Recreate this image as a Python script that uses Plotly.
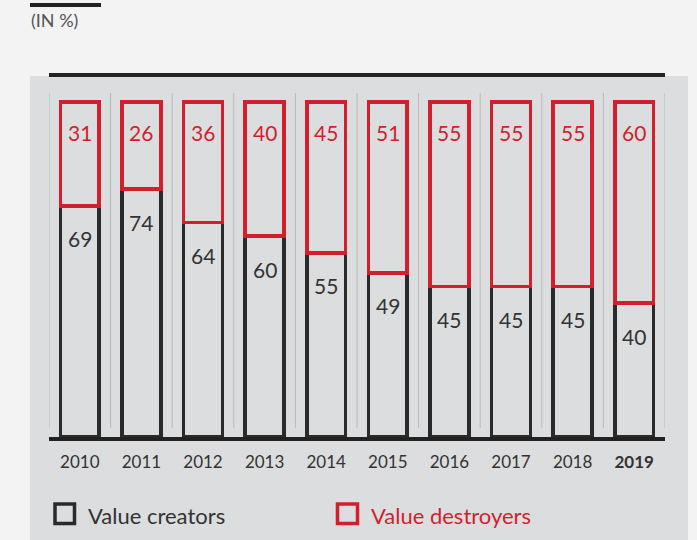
import plotly.graph_objects as go

years = ["2010", "2011", "2012", "2013", "2014", "2015", "2016", "2017", "2018", "2019"]
creators = [69, 74, 64, 60, 55, 49, 45, 45, 45, 40]
destroyers = [31, 26, 36, 40, 45, 51, 55, 55, 55, 60]
tick_labels = ["2010", "2011", "2012", "2013", "2014", "2015", "2016", "2017", "2018", "<b>2019</b>"]

BLACK = "#2a2a2a"
RED = "#d21f2d"
TXT = "#333333"
FONT = "Lato"

W, H = 697, 540
ML, MR, MT, MB = 49, 32, 77, 103
PW = W - ML - MR
PH = H - MT - MB

def px_x(p):
    return (p - ML) / PW

def px_y(p):
    return (H - MB - p) / PH

fig = go.Figure()
fig.add_trace(go.Bar(
    x=list(range(len(years))), y=creators, name="Value creators",
    width=0.63, marker=dict(color="rgba(0,0,0,0)", line=dict(color=BLACK, width=3.5)),
    hoverinfo="skip"))
fig.add_trace(go.Bar(
    x=list(range(len(years))), y=destroyers, name="Value destroyers",
    width=0.63, marker=dict(color="rgba(0,0,0,0)", line=dict(color=RED, width=3.5)),
    hoverinfo="skip"))

annotations = []
for i, (c, d) in enumerate(zip(creators, destroyers)):
    annotations.append(dict(x=i, y=c, xref="x", yref="y", text=str(c), showarrow=False,
                            yshift=-33, font=dict(family=FONT, size=21, color=TXT)))
    annotations.append(dict(x=i, y=100, xref="x", yref="y", text=str(d), showarrow=False,
                            yshift=-30, font=dict(family=FONT, size=21, color=RED)))

annotations.append(dict(x=px_x(29), y=px_y(20), xref="paper", yref="paper", text="(IN %)",
                        showarrow=False, xanchor="left", yanchor="middle",
                        font=dict(family=FONT, size=18, color="#555555")))
annotations.append(dict(x=px_x(86), y=px_y(515), xref="paper", yref="paper", text="Value creators",
                        showarrow=False, xanchor="left", yanchor="middle",
                        font=dict(family=FONT, size=22, color=TXT)))
annotations.append(dict(x=px_x(369), y=px_y(515), xref="paper", yref="paper", text="Value destroyers",
                        showarrow=False, xanchor="left", yanchor="middle",
                        font=dict(family=FONT, size=22, color=RED)))

shapes = [
    # panel
    dict(type="rect", xref="paper", yref="paper", x0=px_x(30), x1=px_x(688), y0=px_y(541), y1=px_y(76),
         fillcolor="#dcdddf", line=dict(width=0), layer="below"),
    # top-left bar
    dict(type="rect", xref="paper", yref="paper", x0=px_x(30), x1=px_x(101), y0=px_y(7), y1=px_y(3),
         fillcolor="#222222", line=dict(width=0)),
    # legend squares
    dict(type="rect", xref="paper", yref="paper", x0=px_x(55), x1=px_x(74.5), y0=px_y(523.5), y1=px_y(504),
         fillcolor="rgba(0,0,0,0)", line=dict(color=BLACK, width=3.5)),
    dict(type="rect", xref="paper", yref="paper", x0=px_x(337.5), x1=px_x(357.5), y0=px_y(523.5), y1=px_y(504),
         fillcolor="rgba(0,0,0,0)", line=dict(color=RED, width=3.5)),
]
for i in range(len(years) + 1):
    shapes.append(dict(type="line", xref="x", yref="y", x0=i - 0.5, x1=i - 0.5, y0=2.7, y1=102.7,
                       line=dict(color="#b9b9bb", width=1), layer="below"))

fig.update_layout(
    width=W, height=H,
    margin=dict(l=ML, r=MR, t=MT, b=MB),
    barmode="stack",
    paper_bgcolor="#f3f3f3",
    plot_bgcolor="rgba(0,0,0,0)",
    showlegend=False,
    annotations=annotations,
    shapes=shapes,
    xaxis=dict(range=[-0.5, 9.5], tickmode="array", tickvals=list(range(len(years))), ticktext=tick_labels,
               showline=True, mirror=True, linecolor="#222222", linewidth=3.5, showgrid=False, zeroline=False,
               ticks="outside", ticklen=7, tickcolor="rgba(0,0,0,0)",
               tickfont=dict(family=FONT, size=17, color=TXT), fixedrange=True),
    yaxis=dict(range=[0, 107.5], showticklabels=False, showgrid=False, zeroline=False, showline=False,
               fixedrange=True),
)

fig.write_html("out.html")
